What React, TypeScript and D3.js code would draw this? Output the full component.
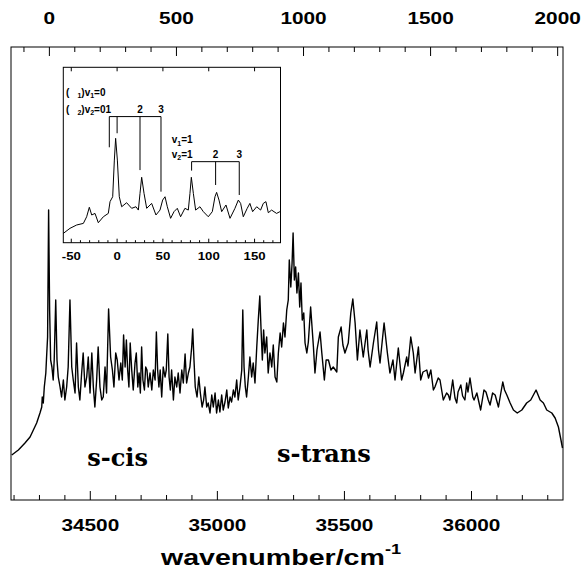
import React from 'react';
import * as d3 from 'd3';

// Main spectrum: wavenumber (cm^-1) and intensity (arb. units)
const WAVENUMBER = [
  34191, 34217, 34243, 34263, 34276, 34289, 34302, 34309, 34311, 34315,
  34319, 34325, 34328, 34332, 34336, 34340, 34344, 34349, 34354, 34358,
  34364, 34369, 34374, 34381, 34387, 34394, 34400, 34407, 34413, 34420,
  34427, 34433, 34440, 34446, 34453, 34459, 34466, 34472, 34479, 34486,
  34492, 34499, 34506, 34512, 34518, 34525, 34531, 34538, 34545, 34551,
  34558, 34564, 34572, 34580, 34587, 34593, 34600, 34606, 34613, 34620,
  34626, 34631, 34637, 34642, 34647, 34652, 34657, 34663, 34669, 34676,
  34681, 34687, 34692, 34697, 34702, 34707, 34713, 34718, 34723, 34728,
  34735, 34742, 34748, 34755, 34760, 34765, 34770, 34775, 34781, 34787,
  34794, 34799, 34805, 34810, 34815, 34820, 34827, 34833, 34840, 34846,
  34853, 34860, 34866, 34873, 34879, 34886, 34892, 34899, 34903, 34908,
  34913, 34920, 34927, 34933, 34940, 34946, 34951, 34958, 34964, 34971,
  34978, 34984, 34991, 34997, 35004, 35010, 35017, 35023, 35030, 35037,
  35043, 35050, 35056, 35063, 35069, 35076, 35082, 35089, 35096, 35100,
  35105, 35110, 35115, 35122, 35128, 35135, 35141, 35148, 35155, 35161,
  35167, 35172, 35177, 35182, 35187, 35194, 35200, 35207, 35214, 35220,
  35227, 35234, 35240, 35247, 35253, 35260, 35266, 35273, 35279, 35283,
  35289, 35294, 35298, 35303, 35308, 35313, 35319, 35324, 35329, 35334,
  35340, 35345, 35352, 35358, 35367, 35378, 35384, 35392, 35404, 35411,
  35421, 35428, 35437, 35447, 35456, 35470, 35476, 35487, 35494, 35502,
  35515, 35525, 35533, 35542, 35551, 35561, 35574, 35588, 35593, 35601,
  35614, 35627, 35634, 35640, 35656, 35669, 35679, 35691, 35699, 35712,
  35725, 35732, 35745, 35750, 35761, 35771, 35778, 35791, 35800, 35809,
  35824, 35831, 35840, 35850, 35856, 35869, 35876, 35889, 35902, 35909,
  35915, 35926, 35935, 35942, 35947, 35958, 35965, 35974, 35981, 35986,
  35994, 36005, 36010, 36021, 36036, 36049, 36057, 36066, 36073, 36083,
  36093, 36106, 36114, 36123, 36130, 36139, 36152, 36165, 36180, 36198,
  36217, 36233, 36254, 36270, 36283, 36296, 36316, 36329, 36342, 36352,
  36358,
];
const INTENSITY = [
  45, 50, 57, 63, 70, 77, 87, 93, 103, 97,
  113, 127, 143, 163, 290, 190, 140, 133, 120, 140,
  200, 140, 123, 113, 103, 120, 100, 113, 133, 200,
  133, 120, 107, 157, 113, 100, 127, 147, 113, 123,
  143, 107, 147, 113, 93, 120, 153, 113, 100, 103,
  133, 107, 191, 143, 130, 113, 147, 140, 120, 137,
  120, 165, 133, 160, 130, 113, 157, 130, 110, 137,
  147, 113, 127, 107, 153, 120, 110, 133, 130, 113,
  127, 110, 130, 120, 168, 130, 113, 130, 103, 133,
  123, 130, 166, 123, 110, 130, 100, 123, 113, 127,
  107, 130, 117, 146, 117, 127, 133, 153, 171, 140,
  113, 103, 123, 107, 93, 100, 113, 93, 97, 87,
  105, 93, 107, 87, 100, 88, 105, 90, 98, 110,
  92, 103, 98, 110, 103, 120, 100, 113, 130, 190,
  133, 113, 103, 123, 143, 123, 137, 117, 153, 180,
  204, 170, 140, 170, 147, 163, 127, 147, 133, 155,
  123, 118, 147, 167, 153, 177, 163, 190, 200, 240,
  213, 237, 267, 220, 233, 207, 227, 193, 217, 180,
  187, 157, 147, 158, 193, 153, 127, 150, 168, 147,
  120, 140, 140, 130, 133, 128, 163, 173, 155, 147,
  157, 187, 201, 177, 140, 170, 143, 170, 150, 133,
  157, 178, 150, 137, 177, 147, 127, 140, 120, 152,
  120, 127, 143, 134, 163, 147, 127, 153, 120, 128,
  130, 122, 130, 110, 113, 122, 120, 100, 107, 105,
  100, 120, 102, 97, 108, 115, 104, 100, 117, 108,
  122, 103, 100, 107, 90, 110, 108, 100, 95, 107,
  105, 93, 105, 118, 110, 105, 97, 90, 87, 90,
  97, 100, 110, 100, 97, 90, 87, 82, 73, 60,
  52,
];

// Origin band position (top axis = relative wavenumber)
const ORIGIN = 34339;
const BOTTOM_TICKS = [34500, 35000, 35500, 36000];
const TOP_TICKS = [0, 500, 1000, 1500, 2000];

// Inset spectrum: shift from origin (cm^-1) and intensity
const INSET_SHIFT = [
  -58.7, -51.4, -44.1, -36.8, -33.2, -30.3, -27.7, -24.1, -20.5, -15,
  -9.6, -7.7, -4.8, -3, -1.6, 0.3, 2.4, 5, 10.4, 15.9,
  20.6, 23.2, 25, 26.8, 29.4, 32.3, 37.7, 42.4, 46.8, 49.7,
  52.3, 54.8, 58.4, 62.1, 65.7, 69.3, 74, 77.7, 79.5, 81,
  83.2, 85.7, 90.4, 94.1, 99.5, 103.9, 106.8, 108.6, 111.2, 114.1,
  118.8, 123.2, 128.6, 132.3, 134.8, 137.7, 142, 144.9, 147.9, 152.3,
  156.6, 159.5, 162.4, 165, 168.6, 174, 177.7,
];
const INSET_INTENSITY = [
  5.3, 8.2, 10.1, 11, 14.8, 20.2, 15.8, 16.7, 11.4, 14.8,
  16.7, 23.4, 26.2, 47.1, 59.5, 47.1, 26.2, 20.5, 22.8, 19.6,
  20.5, 18.6, 28.1, 37.3, 28.1, 19.6, 22.4, 15.8, 18.6, 24.3,
  26.2, 20.5, 13.9, 17.7, 19.6, 14.8, 19.6, 18.6, 28.1, 37.3,
  28.1, 18.6, 20.5, 17.7, 14.8, 17.7, 26.2, 28.7, 24.3, 17.7,
  21.5, 13.9, 19.6, 24.3, 22.4, 14.8, 19.6, 22.4, 17.7, 20.5,
  18.6, 22.4, 23.4, 17.1, 18.6, 16.7, 17.7,
];
const INSET_TICKS = [-50, 0, 50, 100, 150];

// Vibrational progressions in the inset
const PROG1_X = [-8.5, 0, 25, 47.9];
const PROG1_END = [54.4, 62.4, 41.4, 29.1];
const PROG1_LEVEL = 71.9;
const PROG2_X = [81.3, 107.5, 133.3];
const PROG2_END = [41.1, 32.9, 27.2];
const PROG2_LEVEL = 46.2;

const SANS = "'Liberation Sans', Arial, sans-serif";
const SERIF = "'DejaVu Serif', serif";

export default function App() {
  const W = 582;
  const H = 572;
  const left = 11, right = 563, top = 47, bottom = 500;

  const x = d3.scaleLinear().domain([34188, 36360]).range([left, right]);
  const xTop = d3.scaleLinear().domain([34188 - ORIGIN, 36360 - ORIGIN]).range([left, right]);
  const y = d3.scaleLinear().domain([0, 453]).range([bottom, top]);

  const mainPath = d3.line<number>()
    .x((_, i) => x(WAVENUMBER[i]))
    .y((d) => y(d))(INTENSITY) || '';

  const iL = 63.3, iR = 280.5, iT = 67.3, iB = 242.7;
  const xi = d3.scaleLinear().domain([-58.7, 178.3]).range([iL, iR]);
  const yi = d3.scaleLinear().domain([0, 100]).range([iB, iT]);
  const insetPath = d3.line<number>()
    .x((_, i) => xi(INSET_SHIFT[i]))
    .y((d) => yi(d))(INSET_INTENSITY) || '';

  const bottomMinor = d3.range(34200, 36360, 100);
  const topMinor = d3.range(-100, 2025, 100);
  const insetMinor = d3.range(-50, 178, 10);

  const sx = 1.3;
  const tickFont = 16;

  return (
    <svg width={W} height={H} style={{ position: 'absolute', left: 0, top: 0, background: '#fff' }}>
      <rect x={0} y={0} width={W} height={H} fill="#fff" />
      {/* main frame */}
      <rect x={left} y={top} width={right - left} height={bottom - top} fill="none" stroke="#000" strokeWidth={1} />
      {/* bottom ticks */}
      {bottomMinor.map((t) => {
        const major = t % 500 === 0;
        return <line key={'b' + t} x1={x(t)} x2={x(t)} y1={bottom} y2={bottom - (major ? 9 : 5)} stroke="#000" strokeWidth={1} />;
      })}
      {/* top ticks */}
      {topMinor.map((t) => {
        const major = t % 500 === 0;
        return <line key={'t' + t} x1={xTop(t)} x2={xTop(t)} y1={top} y2={top + (major ? 9 : 5)} stroke="#000" strokeWidth={1} />;
      })}
      {BOTTOM_TICKS.map((t) => (
        <text key={'bl' + t} transform={`translate(${x(t)},${531}) scale(${sx},1)`} textAnchor="middle"
          fontFamily={SANS} fontWeight="bold" fontSize={tickFont}>{t}</text>
      ))}
      {TOP_TICKS.map((t) => (
        <text key={'tl' + t} transform={`translate(${xTop(t)},${24}) scale(${sx},1)`} textAnchor="middle"
          fontFamily={SANS} fontWeight="bold" fontSize={tickFont}>{t}</text>
      ))}
      <text transform={`translate(${281},${565}) scale(${sx},1)`} textAnchor="middle" fontFamily={SANS} fontWeight="bold" fontSize={22}>
        wavenumber/cm<tspan dy={-11} fontSize={14}>-1</tspan>
      </text>

      {/* main spectrum */}
      <path d={mainPath} fill="none" stroke="#000" strokeWidth={1.4} strokeLinejoin="round" />

      <text x={x(34488)} y={y(34)} fontFamily={SERIF} fontWeight="bold" fontSize={24}>s-cis</text>
      <text x={x(35235)} y={y(38)} fontFamily={SERIF} fontWeight="bold" fontSize={24}>s-trans</text>

      {/* inset */}
      <rect x={iL} y={iT} width={iR - iL} height={iB - iT} fill="#fff" stroke="#000" strokeWidth={1} />
      {insetMinor.map((t) => {
        const major = t % 50 === 0;
        return <line key={'i' + t} x1={xi(t)} x2={xi(t)} y1={iB} y2={iB - (major ? 4 : 2.5)} stroke="#000" strokeWidth={1} />;
      })}
      {INSET_TICKS.map((t) => (
        <line key={'it' + t} x1={xi(t)} x2={xi(t)} y1={iT} y2={iT + 4} stroke="#000" strokeWidth={1} />
      ))}
      {INSET_TICKS.map((t) => (
        <text key={'il' + t} transform={`translate(${xi(t)},${iB + 17}) scale(1.15,1)`} textAnchor="middle"
          fontFamily={SANS} fontWeight="bold" fontSize={11.5}>{t}</text>
      ))}
      <path d={insetPath} fill="none" stroke="#000" strokeWidth={1} strokeLinejoin="round" />

      {/* progression brackets */}
      <line x1={xi(PROG1_X[0])} x2={xi(PROG1_X[PROG1_X.length - 1])} y1={yi(PROG1_LEVEL)} y2={yi(PROG1_LEVEL)} stroke="#000" strokeWidth={1} />
      {PROG1_X.map((p, i) => (
        <line key={'p1' + i} x1={xi(p)} x2={xi(p)} y1={yi(PROG1_LEVEL)} y2={yi(PROG1_END[i])} stroke="#000" strokeWidth={1} />
      ))}
      <line x1={xi(PROG2_X[0])} x2={xi(PROG2_X[PROG2_X.length - 1])} y1={yi(PROG2_LEVEL)} y2={yi(PROG2_LEVEL)} stroke="#000" strokeWidth={1} />
      {PROG2_X.map((p, i) => (
        <line key={'p2' + i} x1={xi(p)} x2={xi(p)} y1={yi(PROG2_LEVEL)} y2={yi(PROG2_END[i])} stroke="#000" strokeWidth={1} />
      ))}

      <g fontFamily={SANS} fontWeight="bold" fontSize={10}>
        <text x={xi(-55.7)} y={yi(83.8)}>
          (<tspan dx={8} dy={2.5} fontSize={7}>1</tspan><tspan dy={-2.5}>)v</tspan><tspan dy={2.5} fontSize={7}>1</tspan><tspan dy={-2.5}>=0</tspan>
        </text>
        <text x={xi(-55.7)} y={yi(74.1)}>
          (<tspan dx={8} dy={2.5} fontSize={7}>2</tspan><tspan dy={-2.5}>)v</tspan><tspan dy={2.5} fontSize={7}>2</tspan><tspan dy={-2.5}>=01</tspan>
        </text>
        <text x={xi(PROG1_X[2])} y={yi(74.1)} textAnchor="middle">2</text>
        <text x={xi(PROG1_X[3])} y={yi(74.1)} textAnchor="middle">3</text>
        <text x={xi(59.6)} y={yi(56.7)}>
          v<tspan dy={2.5} fontSize={7}>1</tspan><tspan dy={-2.5}>=1</tspan>
        </text>
        <text x={xi(59.6)} y={yi(48.5)}>
          v<tspan dy={2.5} fontSize={7}>2</tspan><tspan dy={-2.5}>=1</tspan>
        </text>
        <text x={xi(PROG2_X[1])} y={yi(48.5)} textAnchor="middle">2</text>
        <text x={xi(PROG2_X[2])} y={yi(48.5)} textAnchor="middle">3</text>
      </g>
    </svg>
  );
}
